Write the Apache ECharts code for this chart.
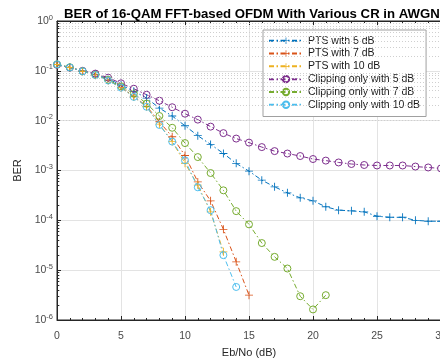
<!DOCTYPE html>
<html>
<head>
<meta charset="utf-8">
<script src="https://cdn.jsdelivr.net/npm/echarts@6/dist/echarts.min.js"></script>
<style>
  html, body { margin: 0; padding: 0; background: #fff; }
  #chart { width: 440px; height: 364px; }
</style>
</head>
<body>
<div id="chart"></div>
<script>
// Eb/No sweep in dB
const ebNo = [0,1,2,3,4,5,6,7,8,9,10,11,12,13,14,15,16,17,18,19,20,21,22,23,24,25,26,27,28,29,30];

// BER curves (each starts at 0 dB, one value per dB step)
const pts5 = [0.134,0.117,0.099,0.085,0.069,0.052,0.039,0.0284,0.0179,0.0124,0.0079,0.0050,0.00334,0.0022,0.00139,9.7e-4,6.4e-4,4.7e-4,3.56e-4,2.83e-4,2.46e-4,1.87e-4,1.6e-4,1.55e-4,1.48e-4,1.21e-4,1.15e-4,1.15e-4,1.0e-4,9.6e-5,9.6e-5];
const pts7 = [0.134,0.117,0.098,0.083,0.065,0.047,0.031,0.0195,0.0095,0.00475,0.0020,5.9e-4,2.46e-4,6.6e-5,1.47e-5,3.15e-6];
const pts10 = [0.134,0.117,0.098,0.082,0.064,0.046,0.030,0.019,0.0085,0.0038,0.0014,5.1e-4,1.48e-4,2.33e-5];
const clip5 = [0.132,0.116,0.100,0.088,0.073,0.0562,0.0437,0.0331,0.0251,0.0186,0.0138,0.0105,0.00759,0.00562,0.00437,0.00363,0.00295,0.00245,0.00219,0.00195,0.0017,0.00158,0.00145,0.00135,0.00129,0.00126,0.00126,0.00126,0.0012,0.00115,0.0011];
const clip7 = [0.135,0.118,0.098,0.083,0.066,0.049,0.035,0.022,0.0124,0.0072,0.00355,0.00186,8.9e-4,4.0e-4,1.53e-4,8.3e-5,3.5e-5,1.85e-5,1.08e-5,3.0e-6,1.63e-6,3.15e-6];
const clip10 = [0.135,0.117,0.098,0.082,0.064,0.046,0.030,0.019,0.0082,0.0038,0.0016,4.6e-4,1.6e-4,2.0e-5,4.6e-6];

const seriesNames = ['PTS with 5 dB','PTS with 7 dB','PTS with 10 dB','Clipping only with 5 dB','Clipping only with 7 dB','Clipping only with 10 dB'];
const seriesValues = [pts5, pts7, pts10, clip5, clip7, clip10];
const seriesColors = ['#0072BD','#D95319','#EDB120','#7E2F8E','#77AC30','#4DBEEE'];
const seriesMarkers = ['plus','plus','plus','circle','circle','circle'];

// Log-axis decades and the 2..9 minor lines between them
const decades = [1e-6,1e-5,1e-4,1e-3,1e-2,1e-1,1];
const minorSteps = [2,3,4,5,6,7,8,9];

const minorY = [];
decades.slice(0, -1).forEach(d => minorSteps.forEach(m => minorY.push(d * m)));

const PLUS = 'path://M4.45,0H5.55V4.45H10V5.55H5.55V10H4.45V5.55H0V4.45H4.45Z';
const AXIS_COLOR = '#262626';
const FONT = 'Liberation Sans, Arial, Helvetica, sans-serif';

const chart = echarts.init(document.getElementById('chart'), null, { renderer: 'canvas' });

const dataSeries = seriesValues.map((vals, k) => ({
  name: seriesNames[k],
  type: 'line',
  data: vals.map((v, i) => [ebNo[i], v]),
  symbol: seriesMarkers[k] === 'plus' ? PLUS : 'circle',
  symbolSize: seriesMarkers[k] === 'plus' ? 8 : 7,
  showAllSymbol: true,
  color: seriesColors[k],
  lineStyle: { width: 1, type: [5, 2.5, 1.5, 2.5], color: seriesColors[k] },
  itemStyle: seriesMarkers[k] === 'plus'
    ? { color: seriesColors[k], borderWidth: 0 }
    : { color: 'rgba(255,255,255,0)', borderColor: seriesColors[k], borderWidth: 1 },
  emphasis: { disabled: true },
  animation: false,
  z: 3
}));

// Minor grid (dotted) and minor tick marks on the left edge
const gridDecor = {
  type: 'line',
  data: [],
  silent: true,
  z: 1,
  markLine: {
    silent: true,
    symbol: 'none',
    animation: false,
    label: { show: false },
    lineStyle: { type: [1, 2], color: '#cfcfcf', width: 1 },
    data: minorY.map(v => ({ yAxis: v }))
  }
};
const tickDecor = {
  type: 'line',
  data: [],
  silent: true,
  z: 2,
  markLine: {
    silent: true,
    symbol: 'none',
    animation: false,
    label: { show: false },
    lineStyle: { type: 'solid', color: AXIS_COLOR, width: 1 },
    data: minorY.map(v => [{ coord: [0, v] }, { coord: [0.18, v] }])
  }
};

const supFmt = v => '10{sup|' + Math.round(Math.log10(v)) + '}';

chart.setOption({
  backgroundColor: '#ffffff',
  animation: false,
  textStyle: { fontFamily: FONT },
  title: {
    text: 'BER of 16-QAM FFT-based OFDM With Various CR in AWGN',
    left: 59,
    top: 3,
    textStyle: { fontSize: 13.2, fontWeight: 'bold', color: '#000', fontFamily: FONT }
  },
  grid: {
    left: 57, top: 21, width: 384, height: 299,
    outerBoundsMode: 'none',
    containLabel: false,
    show: true, backgroundColor: '#fff', borderColor: AXIS_COLOR, borderWidth: 1
  },
  legend: {
    data: seriesNames,
    orient: 'vertical',
    left: 263,
    top: 30,
    itemWidth: 34,
    itemHeight: 8,
    itemGap: 1.3,
    padding: [5, 6, 6, 5],
    backgroundColor: '#fff',
    borderColor: '#a0a0a0',
    borderWidth: 1,
    selectedMode: false,
    textStyle: { fontSize: 10.5, lineHeight: 11.5, color: '#1a1a1a', fontFamily: FONT }
  },
  xAxis: [{
    type: 'value',
    min: 0, max: 30, interval: 5,
    position: 'bottom',
    name: 'Eb/No (dB)',
    nameLocation: 'middle',
    nameGap: 27,
    nameTextStyle: { fontSize: 11, color: AXIS_COLOR },
    axisLine: { show: true, lineStyle: { color: AXIS_COLOR, width: 1 } },
    axisTick: { show: true, inside: true, length: 4, lineStyle: { color: AXIS_COLOR } },
    minorTick: { show: true, splitNumber: 5, length: 2, lineStyle: { color: AXIS_COLOR } },
    splitLine: { show: true, lineStyle: { color: '#e3e3e3', width: 1 } },
    axisLabel: { fontSize: 10.5, color: '#4a4a4a', margin: 11, hideOverlap: false }
  }, {
    type: 'value',
    min: 0, max: 30, interval: 5,
    position: 'top',
    axisLine: { show: true, lineStyle: { color: AXIS_COLOR, width: 1 } },
    axisTick: { show: true, inside: true, length: 4, lineStyle: { color: AXIS_COLOR } },
    minorTick: { show: true, splitNumber: 5, length: 2, lineStyle: { color: AXIS_COLOR } },
    splitLine: { show: false },
    axisLabel: { show: false }
  }],
  yAxis: {
    type: 'log',
    logBase: 10,
    min: decades[0],
    max: decades[decades.length - 1],
    splitNumber: 6,
    name: 'BER',
    nameLocation: 'middle',
    nameGap: 33,
    nameRotate: 90,
    nameTextStyle: { fontSize: 11, color: AXIS_COLOR },
    axisLine: { show: true, lineStyle: { color: AXIS_COLOR, width: 1 } },
    axisTick: { show: true, inside: true, length: 4, lineStyle: { color: AXIS_COLOR } },
    splitLine: { show: true, lineStyle: { color: '#e3e3e3', width: 1 } },
    axisLabel: {
      margin: 4,
      color: '#4a4a4a',
      fontSize: 10.5,
      formatter: supFmt,
      rich: { sup: { fontSize: 7.5, verticalAlign: 'bottom', padding: [0, 0, 7, 0], color: '#4a4a4a' } }
    }
  },
  series: [gridDecor, tickDecor].concat(dataSeries)
});
</script>
</body>
</html>
